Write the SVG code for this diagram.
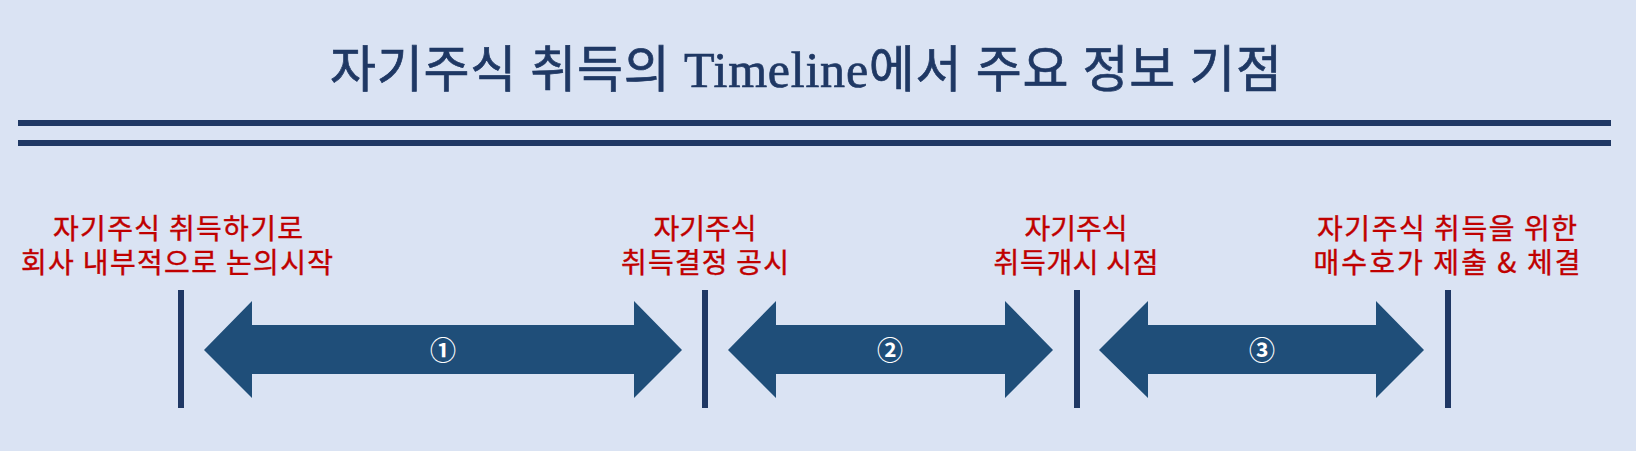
<svg xmlns="http://www.w3.org/2000/svg" width="1636" height="451" viewBox="0 0 1636 451">
<style>
.title{font-family:"Liberation Serif","Noto Sans CJK KR",serif;font-size:50px;fill:#1F3864;stroke:#1F3864;stroke-width:0.7px;text-anchor:middle}
.lbl{font-family:"Noto Sans CJK KR","Noto Sans",sans-serif;font-size:28px;fill:#C00000;stroke:#C00000;stroke-width:0.4px;text-anchor:middle}
.num{font-family:"Noto Sans CJK KR","DejaVu Sans",sans-serif;font-size:26px;font-weight:bold;fill:#FFFFFF;text-anchor:middle}
.bar{fill:#1F3864}
.rule{fill:#1F3864}
.arrow{fill:#1F4E79}
</style>
<rect width="1636" height="451" fill="#DAE3F3"/>
<g id="title">
<text class="title" x="806" y="87" textLength="952" lengthAdjust="spacing">자기주식 취득의 Timeline에서 주요 정보 기점</text>
<rect class="rule" x="18" y="120" width="1593" height="6"/>
<rect class="rule" x="18" y="140" width="1593" height="6"/>
</g>
<g id="node-1">
<rect class="bar" x="178" y="290" width="6" height="118"/>
<text class="lbl"><tspan x="178" y="239" textLength="250" lengthAdjust="spacing">자기주식 취득하기로</tspan><tspan x="177" y="273" textLength="312" lengthAdjust="spacing">회사 내부적으로 논의시작</tspan></text>
</g>
<g id="node-2">
<rect class="bar" x="702" y="290" width="6" height="118"/>
<text class="lbl"><tspan x="705" y="239">자기주식</tspan><tspan x="705" y="273" textLength="168" lengthAdjust="spacing">취득결정 공시</tspan></text>
</g>
<g id="node-3">
<rect class="bar" x="1074" y="290" width="6" height="118"/>
<text class="lbl"><tspan x="1076" y="239">자기주식</tspan><tspan x="1076" y="273" textLength="165" lengthAdjust="spacing">취득개시 시점</tspan></text>
</g>
<g id="node-4">
<rect class="bar" x="1445" y="290" width="6" height="118"/>
<text class="lbl"><tspan x="1447" y="239" textLength="260" lengthAdjust="spacing">자기주식 취득을 위한</tspan><tspan x="1447" y="273" textLength="267" lengthAdjust="spacing">매수호가 제출 &amp; 체결</tspan></text>
</g>
<g id="connectors">
<polygon class="arrow" points="204,350 252,301 252,325 634,325 634,301 682,350 634,398 634,374 252,374 252,398"/>
<text class="num" x="443" y="360">①</text>
<polygon class="arrow" points="728,350 776,301 776,325 1005,325 1005,301 1053,350 1005,398 1005,374 776,374 776,398"/>
<text class="num" x="890" y="360">②</text>
<polygon class="arrow" points="1099,350 1148,301 1148,325 1376,325 1376,301 1424,350 1376,398 1376,374 1148,374 1148,398"/>
<text class="num" x="1262" y="360">③</text>
</g>
</svg>
